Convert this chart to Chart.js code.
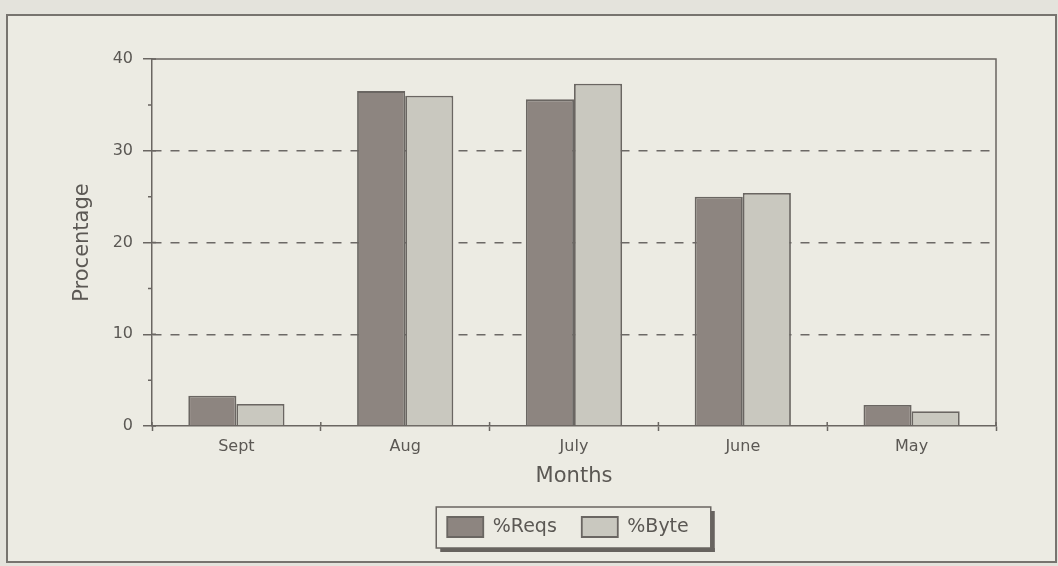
<!DOCTYPE html>
<html>
<head>
<meta charset="utf-8">
<script src="https://cdn.jsdelivr.net/npm/chart.js@4"></script>
<style>
    html, body { margin: 0; padding: 0; background: #e4e3dc; }
    #wrap { width: 1058px; height: 566px; position: relative; }
</style>
</head>
<body>
<div id="wrap"><canvas id="bar-chart" width="1058" height="566"></canvas></div>
<script>
(function () {
    "use strict";

    const months = ["Sept", "Aug", "July", "June", "May"];
    const reqs = [3.3, 36.5, 35.6, 25.0, 2.3];
    const bytes = [2.4, 36.0, 37.3, 25.4, 1.6];
    const yTicks = [0, 10, 20, 30, 40];

    const ink = "#6a6662";
    const textColor = "#5b5854";
    const font = "DejaVu Sans";

    // frame, plot border, tick crossings, minor ticks and legend box
    const decor = {
        id: "decor",
        afterLayout(chart) {
            // centre the legend under the plot (a little to the left)
            const lg = chart.legend;
            const a = chart.chartArea;
            const dx = (a.left + a.right) / 2 - (lg.left + lg.right) / 2 - 6;
            lg.left += dx;
            lg.right += dx;
        },
        beforeDraw(chart) {
            const c = chart.ctx;
            c.save();
            c.fillStyle = "#e4e3dc";
            c.fillRect(0, 0, chart.width, chart.height);
            c.fillStyle = "#ecebe3";
            c.fillRect(7, 15, chart.width - 9, chart.height - 19);
            c.strokeStyle = "#77746f";
            c.lineWidth = 2;
            c.strokeRect(7, 15, chart.width - 9, chart.height - 19);
            c.restore();
        },
        beforeDatasetsDraw(chart) {
            const c = chart.ctx;
            const a = chart.chartArea;
            const y = chart.scales.y;
            c.save();
            c.strokeStyle = ink;
            c.lineWidth = 1.5;
            c.beginPath();
            c.moveTo(a.left, a.top);
            c.lineTo(a.right, a.top);
            c.lineTo(a.right, a.bottom);
            c.stroke();
            c.beginPath();
            yTicks.forEach((v, i) => {
                const p = y.getPixelForValue(v);
                c.moveTo(a.left, p);
                c.lineTo(a.left + 4, p);
                if (i < yTicks.length - 1) {
                    const m = y.getPixelForValue((v + yTicks[i + 1]) / 2);
                    c.moveTo(a.left - 4, m);
                    c.lineTo(a.left, m);
                }
            });
            const n = months.length;
            for (let i = 0; i <= n; i++) {
                const px = a.left + (i * (a.right - a.left)) / n;
                c.moveTo(px, a.bottom - 4);
                c.lineTo(px, a.bottom);
            }
            c.stroke();
            c.restore();
        },
        afterDraw(chart) {
            const lg = chart.legend;
            if (!lg || !lg.legendHitBoxes.length) return;
            const boxes = lg.legendHitBoxes;
            const x0 = boxes[0].left - 11;
            const last = boxes[boxes.length - 1];
            const x1 = last.left + last.width + 22;
            const y0 = boxes[0].top - 10;
            const y1 = boxes[0].top + boxes[0].height + 11;
            const c = chart.ctx;
            c.save();
            c.fillStyle = "#67635f";
            c.fillRect(x0 + 4, y1, x1 - x0, 4);
            c.fillRect(x1, y0 + 4, 4, y1 - y0);
            c.strokeStyle = ink;
            c.lineWidth = 1.5;
            c.strokeRect(x0, y0, x1 - x0, y1 - y0);
            c.restore();
        },
    };

    const ctx = document.getElementById("bar-chart").getContext("2d");
    new Chart(ctx, {
        type: "bar",
        data: {
            labels: months,
            datasets: [
                {
                    label: "%Reqs",
                    data: reqs,
                    backgroundColor: "#8d8580",
                    borderColor: ink,
                    borderWidth: 1.8,
                },
                {
                    label: "%Byte",
                    data: bytes,
                    backgroundColor: "#c9c8bf",
                    borderColor: ink,
                    borderWidth: 1.8,
                },
            ],
        },
        options: {
            responsive: false,
            animation: false,
            layout: {
                padding: { left: 20, top: 59, right: 62, bottom: 19 },
            },
            datasets: {
                bar: {
                    categoryPercentage: 0.57,
                    barPercentage: 1.0,
                },
            },
            scales: {
                x: {
                    border: { color: ink, width: 1.5 },
                    afterFit: (scale) => {
                        scale.height = 66;
                    },
                    grid: {
                        offset: true,
                        drawOnChartArea: false,
                        tickLength: 5,
                        color: ink,
                        tickWidth: 1.5,
                    },
                    ticks: {
                        color: textColor,
                        padding: 6,
                        font: { family: font, size: 16 },
                    },
                    title: {
                        display: true,
                        text: "Months",
                        color: textColor,
                        padding: { top: 4, bottom: 3 },
                        font: { family: font, size: 21 },
                    },
                },
                y: {
                    min: 0,
                    max: 40,
                    border: { color: ink, width: 1.5, dash: [9, 9] },
                    afterFit: (scale) => {
                        scale.width = 132;
                    },
                    grid: {
                        color: (c) =>
                            c.tick && c.tick.value > 0 && c.tick.value < 40
                                ? "#6c6966"
                                : "rgba(0,0,0,0)",
                        tickColor: ink,
                        lineWidth: 1.5,
                        tickWidth: 1.5,
                        tickLength: 9,
                        tickBorderDash: [],
                    },
                    ticks: {
                        stepSize: 10,
                        color: textColor,
                        padding: 10,
                        font: { family: font, size: 16 },
                    },
                    title: {
                        display: true,
                        text: "Procentage",
                        color: textColor,
                        padding: { top: 50 },
                        font: { family: font, size: 21 },
                    },
                },
            },
            plugins: {
                legend: {
                    position: "bottom",
                    labels: {
                        boxWidth: 36,
                        boxHeight: 20,
                        padding: 25,
                        color: textColor,
                        font: { family: font, size: 19 },
                    },
                },
                tooltip: { enabled: false },
            },
        },
        plugins: [decor],
    });
})();
</script>
</body>
</html>
